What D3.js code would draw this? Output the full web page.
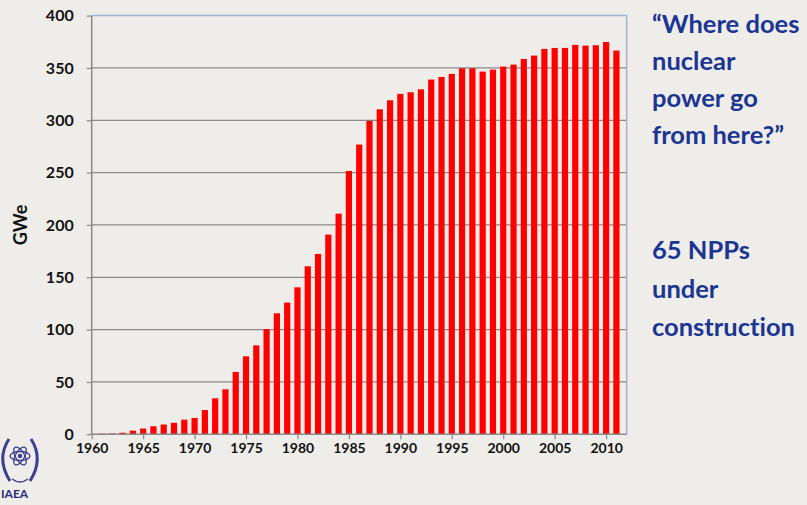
<!DOCTYPE html>
<html>
<head>
<meta charset="utf-8">
<script src="https://cdn.jsdelivr.net/npm/d3@7"></script>
<style>
  html, body { margin: 0; padding: 0; background: #efede9; }
  svg { display: block; }
  text { font-family: Lato, "Open Sans", sans-serif; font-weight: 700; font-variant-ligatures: none; }
</style>
</head>
<body>
<div id="chart"></div>
<script>
// installed nuclear capacity worldwide, GWe, by year
var years = d3.range(1960, 2012);
var gwe = [0.4, 0.6, 0.8, 1.5, 3.5, 5.5, 7.7, 9.3, 11, 14,
  15.6, 23.2, 34.4, 43, 59.6, 74.5, 85, 100.6, 115.6, 125.8,
  140.4, 160.5, 172.3, 190.8, 210.8, 251.6, 276.8, 299.4, 310.5, 319.1,
  325.2, 326.8, 329.6, 338.9, 341.4, 344.3, 349.7, 349.7, 346.5, 348.4,
  351.3, 353.2, 358.6, 361.8, 368.2, 369.1, 369.1, 372, 371.3, 371.7,
  374.8, 366.6];
var yTicks = [0, 50, 100, 150, 200, 250, 300, 350, 400];
var xTicks = [1960, 1965, 1970, 1975, 1980, 1985, 1990, 1995, 2000, 2005, 2010];
var yLabel = "GWe";
var noteA = ["\u201CWhere does", "nuclear", "power go", "from here?\u201D"];
var noteB = ["65 NPPs", "under", "construction"];

var width = 807, height = 505;
var pLeft = 91.7, pRight = 626.7, pTop = 15.6, pBottom = 434.3;

var svg = d3.select("#chart").append("svg")
  .attr("width", width)
  .attr("height", height);

svg.append("rect").attr("width", width).attr("height", height).attr("fill", "#efede9");

var x = d3.scaleLinear().domain([1960, 2012]).range([pLeft, pRight]);
var y = d3.scaleLinear().domain([0, 400]).range([pBottom, pTop]);

// gridlines
svg.append("g").selectAll("line")
  .data(yTicks.filter(d => d > 0 && d < 400))
  .enter().append("line")
  .attr("x1", pLeft).attr("x2", pRight)
  .attr("y1", d => y(d)).attr("y2", d => y(d))
  .attr("stroke", "#8a8a8a").attr("stroke-width", 1.2);

// plot border (top, right)
svg.append("path")
  .attr("d", "M" + pLeft + "," + pTop + "H" + pRight + "V" + pBottom)
  .attr("fill", "none").attr("stroke", "#9fb5d8").attr("stroke-width", 1.5);

// bars
var bw = 6.2;
svg.append("g").selectAll("rect")
  .data(years)
  .enter().append("rect")
  .attr("x", (d) => x(d) - bw / 2)
  .attr("width", bw)
  .attr("y", (d, i) => y(gwe[i]))
  .attr("height", (d, i) => pBottom - y(gwe[i]))
  .attr("fill", "#ff0000");

// y axis
var yAxis = svg.append("g")
  .attr("transform", "translate(" + pLeft + ",0)")
  .call(d3.axisLeft(y).tickValues(yTicks).tickSize(5).tickPadding(13).tickFormat(d3.format("d")));
yAxis.select(".domain").attr("stroke", "#8a8a8a").attr("stroke-width", 1.5)
  .attr("d", "M0," + pTop + "V" + pBottom);
yAxis.selectAll(".tick line").attr("stroke", "#8a8a8a").attr("stroke-width", 1.2);
yAxis.selectAll("text").attr("font-size", 16).attr("fill", "#111")
  .style("font-family", "Lato, sans-serif").style("font-weight", 700);

// x axis
var xAxis = svg.append("g")
  .attr("transform", "translate(0," + pBottom + ")")
  .call(d3.axisBottom(x).tickValues(xTicks).tickSize(5).tickPadding(4).tickFormat(d3.format("d")));
xAxis.select(".domain").attr("stroke", "#8a8a8a").attr("stroke-width", 1.5)
  .attr("d", "M" + pLeft + ",0H" + pRight);
xAxis.selectAll(".tick line").attr("stroke", "#8a8a8a").attr("stroke-width", 1.2);
xAxis.selectAll("text").attr("font-size", 14).attr("fill", "#111")
  .style("font-family", "Lato, sans-serif").style("font-weight", 700);

// y title
svg.append("text")
  .attr("transform", "translate(27," + ((pTop + pBottom) / 2) + ") rotate(-90)")
  .attr("text-anchor", "middle")
  .attr("font-size", 18)
  .attr("fill", "#111")
  .text(yLabel);

// side notes
svg.append("g").selectAll("text")
  .data(noteA)
  .enter().append("text")
  .attr("x", 652)
  .attr("y", (d, i) => 33 + i * 37)
  .attr("font-size", 25.5)
  .attr("fill", "#1a3592")
  .text(d => d);

svg.append("g").selectAll("text")
  .data(noteB)
  .enter().append("text")
  .attr("x", 652)
  .attr("y", (d, i) => 259 + i * 38.5)
  .attr("font-size", 25.5)
  .attr("fill", "#1a3592")
  .text(d => d);

// IAEA emblem, rough
var logo = svg.append("g").attr("transform", "translate(18,461)")
  .attr("fill", "none").attr("stroke", "#3c3f8f").attr("stroke-width", 1.3);
logo.append("path").attr("d", "M-9,-22 Q-22,-2 -8,20").attr("stroke-width", 3);
logo.append("path").attr("d", "M13,-22 Q26,-2 12,20").attr("stroke-width", 3);
logo.append("ellipse").attr("cx", 2).attr("cy", -5).attr("rx", 10).attr("ry", 4.5).attr("transform", "rotate(60,2,-5)");
logo.append("ellipse").attr("cx", 2).attr("cy", -5).attr("rx", 10).attr("ry", 4.5).attr("transform", "rotate(-60,2,-5)");
logo.append("ellipse").attr("cx", 2).attr("cy", -5).attr("rx", 10).attr("ry", 4.5);
logo.append("circle").attr("cx", 2).attr("cy", -5).attr("r", 1.6).attr("fill", "#3c3f8f");
logo.append("path").attr("d", "M-6,18 Q2,24 10,18").attr("stroke-width", 1.5);
svg.append("text")
  .attr("x", 1).attr("y", 498)
  .attr("font-size", 12)
  .attr("fill", "#2b2e78")
  .text("IAEA");
</script>
</body>
</html>
